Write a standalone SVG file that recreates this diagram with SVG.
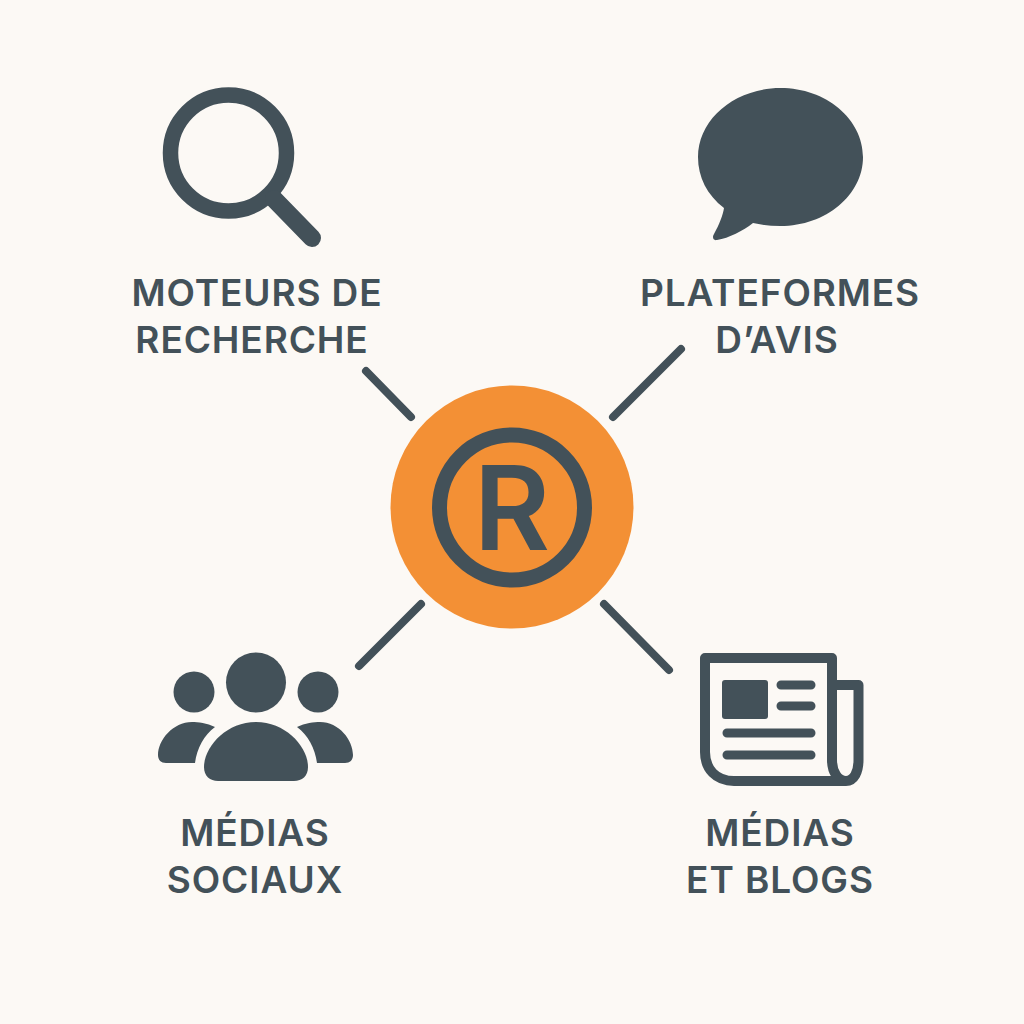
<svg xmlns="http://www.w3.org/2000/svg" width="1024" height="1024" viewBox="0 0 1024 1024">
<style>
.bg{fill:#fcf9f5}
.d{fill:#435159}
.s{fill:none;stroke:#435159;stroke-linecap:round;stroke-linejoin:round}
.t{font-family:Inter,"Liberation Sans",sans-serif;font-weight:600;font-size:37px;letter-spacing:.9px;fill:#435159;text-anchor:middle}
</style>
<rect class="bg" width="1024" height="1024"/>
<g id="connectors">
<path class="s" stroke-width="8" d="M366 371L411 417M681 349L613 417M421 604L359 666M604 604L669 670"/>
</g>
<g id="center">
<circle cx="512" cy="507" r="121.500" fill="#f39035"/>
<circle class="s" stroke-width="15" cx="512" cy="507.500" r="72.500"/>
<text x="512" y="550" font-family="Inter,'Liberation Sans',sans-serif" font-weight="600" font-size="117" fill="#435159" text-anchor="middle">R</text>
</g>
<g id="search">
<circle class="s" stroke-width="15.500" cx="228.500" cy="153" r="58"/>
<path class="s" stroke-width="18" d="M274 199L312 238"/>
<text class="t" x="257" y="305.500">MOTEURS DE</text>
<text class="t" x="252" y="352.500">RECHERCHE</text>
</g>
<g id="reviews">
<path class="d" d="M724 208C707 195 698 177 698 157C698 119 735 88 780.500 88C826 88 863 119 863 157C863 195 826 226 780.500 226C771 226 762 225 753 223C743 231 729 238 717 240C713 241 712 237 714 234C719 225 723 215 724 208Z"/>
<text class="t" x="780" y="305.500">PLATEFORMES</text>
<text class="t" x="777" y="352.500">D’AVIS</text>
</g>
<g id="social">
<circle class="d" cx="194" cy="692" r="20.500"/>
<circle class="d" cx="256" cy="682.500" r="30"/>
<circle class="d" cx="318" cy="692" r="20.500"/>
<path class="d" d="M215 727C207 723 198 722 192 722C173 722 158 740 158 755C158 760 161 763 166 763H195C197 748 204 735 215 727Z"/>
<path class="d" d="M297 727C305 723 314 722 320 722C339 722 353 740 353 755C353 760 350 763 345 763H317C315 748 308 735 297 727Z"/>
<path class="d" d="M256 722C286 722 308 747 308 767C308 776 302 781 294 781H218C210 781 204 776 204 767C204 747 226 722 256 722Z"/>
<text class="t" x="255" y="845.500">MÉDIAS</text>
<text class="t" x="255" y="892.500">SOCIAUX</text>
</g>
<g id="news">
<path class="s" stroke-width="10" d="M846 781H734C716 781 705 769 705 752V658H832V760C832 772 838 781 846 781C854 781 858.500 772 858.500 760V685H832"/>
<rect class="d" x="722" y="680" width="46" height="39" rx="3"/>
<path class="s" stroke-width="9" d="M781 685H811M781 706H811M727 733H811M727 755H811"/>
<text class="t" x="780" y="845.500">MÉDIAS</text>
<text class="t" x="780" y="892.500">ET BLOGS</text>
</g>
</svg>
